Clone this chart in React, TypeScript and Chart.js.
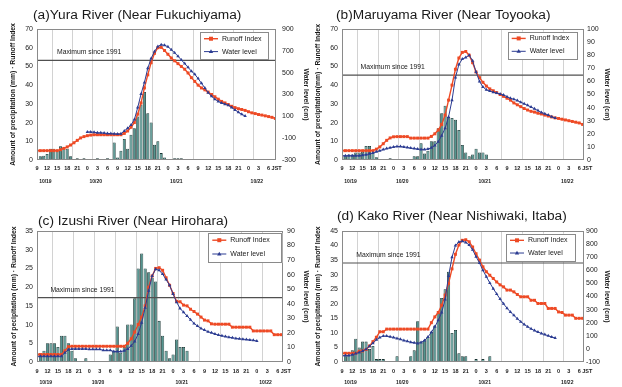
import React, { useEffect, useRef } from 'react';
import { Chart, registerables } from 'chart.js';

Chart.register(...registerables);

const FONT = '"Liberation Sans", Arial, Helvetica, sans-serif';
Chart.defaults.font.family = FONT;

const RED = '#ee4a25';
const BLUE = '#2c3c92';
const BAR_FILL = '#54948f';
const BAR_EDGE = '#173331';
const MAX_LINE = '#505050';
const GRID = '#d2d2d2';
const FRAME = '#8a8a8a';
const TEXT = '#1a1a1a';

// hours counted from 10/19 9:00 JST
const START_HOUR = 9;
const LAST_TICK = 69;
const dateLabels = ['10/19', '10/20', '10/21', '10/22'];
const datePositions = [2.5, 17.5, 41.5, 65.5];
const seriesLabels = ['Runoff Index', 'Water level'];
const maxLabel = 'Maximum since 1991';
const rightAxisTitle = 'Water level (cm)';

// (a) Yura River
const precipA = [0, 2, 2.3, 3.2, 6, 6, 5, 7.3, 6.8, 6, 2, 0, 1, 0, 1, 0, 0, 0, 1, 0, 0, 1, 0, 9.4, 1.4, 5, 11.2, 6, 13.5, 17, 23.3, 29.6, 36.3, 25, 20, 8.2, 10, 3.7, 1.4, 0, 0, 1, 1, 1];
const runoffA = [5, 5, 5, 5, 5, 5, 5, 5.5, 6.2, 7, 8, 9.2, 10.5, 11.8, 12.5, 13, 13.3, 13.5, 13.5, 13.5, 13.5, 13.5, 13.5, 13.5, 13.5, 13.5, 14.2, 15.5, 17.5, 20, 24.5, 30.5, 38.5, 45.5, 52, 57, 60, 60.2, 58.5, 56.5, 54.5, 53, 51.5, 50, 48.5, 46.5, 44, 42, 40, 38.5, 37.5, 36.3, 35, 33.8, 32.5, 31.3, 30.5, 29.6, 28.7, 28, 27.4, 27, 26.5, 25.8, 25.2, 24.8, 24.3, 24, 23.6, 23.2, 22.8, 22.2];
const waterA = [null, null, null, null, null, null, null, null, null, null, null, null, null, null, null, -43, -43, -46, -50, -51, -53, -57, -58, -60, -62, -60, -34, -9, 20, 70, 180, 305, 410, 540, 630, 694, 740, 756, 751, 737, 711, 682, 651, 617, 583, 549, 514, 485, 446, 403, 360, 317, 283, 257, 237, 223, 211, 201, 180, 159, 137, 118, 103];
const maxA = 53.2;

// (b) Maruyama River
const precipB = [2, 2, 3, 3, 4, 4, 4.5, 7.5, 7.5, 4, 1.5, 0, 0, 0, 1, 0, 0, 0, 0, 0, 0, 2, 2, 9, 3.5, 5, 10, 10, 17, 25, 29, 23, 22.5, 21.5, 16, 8, 4, 2, 3, 6, 4, 4, 3];
const runoffB = [5, 5, 5, 5, 5, 5, 5, 5, 5, 5, 5.8, 7, 8.7, 10.5, 11.8, 12.4, 12.5, 12.5, 12.5, 12.5, 11.7, 11.7, 11.7, 11.7, 11.7, 11.7, 12.6, 14, 16, 19, 24, 32, 40, 48.5, 54.5, 57.5, 58, 56, 52, 47, 44, 41.5, 39.5, 38, 37, 36, 35, 34, 33, 32, 30.5, 29.5, 28.5, 27.5, 26.7, 26, 25.6, 25, 24.6, 24, 23.5, 23, 22.5, 22.2, 21.8, 21.4, 21, 20.6, 20.2, 19.8, 19];
const waterB = [3.3, 3.3, 3.3, 3.3, 3.3, 3.3, 3.7, 4.1, 4.7, 5.4, 6.3, 7.1, 8, 8.7, 9.4, 10, 10.3, 10.3, 10, 9.6, 9.1, 8.7, 8.4, 8.1, 8.1, 8.4, 9.3, 11.1, 14, 18.6, 24.3, 32.9, 45.7, 62.9, 72.9, 77.1, 78.3, 80, 75.7, 67.1, 60, 55.7, 53.6, 52.6, 51.7, 51.1, 50.4, 49.7, 48.3, 47.1, 46.4, 45.4, 44.1, 42.9, 41.7, 40.4, 39.1, 37.7, 36.3, 35.3, 34.3, 33.1, 32];
const maxB = 45.3;

// (c) Izushi River
const precipC = [0, 2, 3, 5, 5, 5, 4, 7, 7, 5, 3, 1, 0, 0, 1, 0, 0, 0, 0, 0, 0, 2, 3, 9.5, 2.5, 4, 10, 10, 17, 25, 29, 25, 24, 22.5, 21.5, 11, 7, 3, 1, 2, 6, 4, 4, 3];
const runoffC = [2, 2, 2, 2, 2, 2, 2, 2, 3, 4.1, 4.2, 4.2, 4.2, 4.2, 4.2, 4.2, 4.2, 4.2, 4.2, 4.2, 4.2, 4.2, 4.2, 4.2, 4.2, 4.2, 5, 6.2, 8, 10, 12, 15, 20, 23, 25, 25.2, 24.5, 22.5, 20.5, 18.3, 16.2, 16.1, 15.2, 15, 14.1, 13.5, 12.8, 12, 11.2, 11, 10.2, 10.1, 10.1, 10.1, 10.1, 10.1, 9.3, 9.3, 9.3, 9.3, 9.3, 9.3, 8.3, 8.3, 8.3, 8.3, 8.3, 8.3, 7.3, 7.3, 7.3];
const waterC = [3.9, 3.9, 3.9, 3.9, 3.9, 3.9, 3.9, 3.9, 6.4, 8.5, 9, 9, 9, 9, 9, 8.7, 8.7, 8.7, 8.7, 8, 8, 8, 7.2, 7.2, 7.2, 7.7, 9, 11.1, 14.1, 19.3, 27, 37.3, 48.9, 59.1, 63.8, 63, 60.4, 56.6, 52.7, 46.8, 41.1, 36.8, 34.2, 31.6, 29.1, 26.5, 24.7, 23.1, 21.9, 20.8, 20.1, 19.3, 18.5, 18, 17.5, 17, 16.7, 16.2, 15.9, 15.7, 15.4, 15.2, 14.9, 14.4];
const maxC = 17.2;

// (d) Kako River
const precipD = [0, 2, 2.5, 4, 8, 5, 7, 7, 4.5, 5.5, 1, 1, 1, 0, 0, 0, 2, 0, 0, 0, 2, 4, 14, 7, 7.5, 8.7, 10.4, 12.5, 17, 22, 25, 31, 10, 11, 3, 2, 2, 0, 0, 1, 0, 1, 0, 2];
const runoffD = [3, 3, 3, 3, 3, 3.7, 3.8, 4.3, 5.5, 7, 8.5, 10.4, 10.4, 11.3, 11.3, 11.3, 11.3, 11.3, 11.3, 11.3, 11.3, 11.3, 11.3, 11.3, 11.3, 11.3, 13.5, 15.5, 17, 19.5, 23, 27, 32, 37, 40.2, 41.8, 42, 41.3, 39.5, 37.2, 35, 32.7, 31, 29.8, 28.7, 27.5, 26.5, 25.8, 24.7, 24.7, 24.1, 23.2, 22.4, 22.4, 22.4, 21.2, 21.2, 20.1, 20.1, 20.1, 18.4, 18.4, 18.4, 17.2, 17, 16.1, 16.1, 16.1, 15, 15, 15];
const waterD = [-51, -51, -51, -44, -36, -27, -16, -2, 20, 44, 69, 87, 98, 98, 93, 87, 80, 73, 64, 58, 51, 47, 42, 49, 64, 91, 127, 169, 218, 278, 378, 556, 700, 789, 816, 822, 813, 793, 756, 704, 656, 600, 551, 504, 460, 420, 380, 344, 311, 282, 256, 231, 207, 187, 169, 153, 140, 129, 118, 109, 100, 91, 84];
const maxD = 34;

type Panel = {
  id: string;
  left: number; top: number; W: number; H: number;
  plotLeft: number; plotRight: number; plotTop: number; plotBottom: number;
  title: string; titleX: number; titleY: number;
  leftTitle: string; leftTitlePad: number; rightTitlePad: number; rightTickPad: number;
  precip: number[]; runoff: (number | null)[]; water: (number | null)[]; maxLevel: number;
  yMax: number; yStep: number; y2Min: number; y2Max: number; y2Step: number; xMax: number;
  xTickPad: number; dateY: number; maxLabelDx: number;
  legend: { x: number; y: number; w: number; h: number };
};

const panels: Panel[] = [
  {
    id: 'a', left: 0, top: 0, W: 311, H: 193,
    plotLeft: 37, plotRight: 276, plotTop: 29, plotBottom: 160,
    title: '(a)Yura River (Near Fukuchiyama)', titleX: 33, titleY: 15,
    leftTitle: 'Amount of precipitation (mm) · Runoff Index', leftTitlePad: 9, rightTitlePad: 1.2, rightTickPad: 6,
    precip: precipA, runoff: runoffA, water: waterA, maxLevel: maxA,
    yMax: 70, yStep: 10, y2Min: -300, y2Max: 900, y2Step: 200, xMax: 71.2,
    xTickPad: 5, dateY: 181.5, maxLabelDx: 20,
    legend: { x: 200, y: 32, w: 69, h: 28 },
  },
  {
    id: 'b', left: 311, top: 0, W: 311, H: 193,
    plotLeft: 31, plotRight: 273, plotTop: 29, plotBottom: 160,
    title: '(b)Maruyama River (Near Toyooka)', titleX: 25, titleY: 15,
    leftTitle: 'Amount of precipitation(mm) · Runoff Index', leftTitlePad: 3, rightTitlePad: 11, rightTickPad: 3,
    precip: precipB, runoff: runoffB, water: waterB, maxLevel: maxB,
    yMax: 70, yStep: 10, y2Min: 0, y2Max: 100, y2Step: 10, xMax: 70.4,
    xTickPad: 5, dateY: 181.5, maxLabelDx: 18.6,
    legend: { x: 196.7, y: 31.7, w: 70, h: 28 },
  },
  {
    id: 'c', left: 0, top: 193, W: 311, H: 194,
    plotLeft: 37, plotRight: 283, plotTop: 38, plotBottom: 169,
    title: '(c) Izushi River (Near Hirohara)', titleX: 38, titleY: 28,
    leftTitle: 'Amount of pecipitation (mm) · Runoff Index', leftTitlePad: 10, rightTitlePad: 1.2, rightTickPad: 4,
    precip: precipC, runoff: runoffC, water: waterC, maxLevel: maxC,
    yMax: 35, yStep: 5, y2Min: 0, y2Max: 90, y2Step: 10, xMax: 70.5,
    xTickPad: 6.5, dateY: 190, maxLabelDx: 13.4,
    legend: { x: 208.3, y: 40, w: 74, h: 30 },
  },
  {
    id: 'd', left: 311, top: 193, W: 311, H: 194,
    plotLeft: 31, plotRight: 273, plotTop: 38, plotBottom: 169,
    title: '(d) Kako River (Near Nishiwaki, Itaba)', titleX: 26, titleY: 23,
    leftTitle: 'Amount of pecipitation (mm) · Runoff Index', leftTitlePad: 3, rightTitlePad: 11, rightTickPad: 2,
    precip: precipD, runoff: runoffD, water: waterD, maxLevel: maxD,
    yMax: 45, yStep: 5, y2Min: -100, y2Max: 900, y2Step: 100, xMax: 70.4,
    xTickPad: 6.5, dateY: 190, maxLabelDx: 14.3,
    legend: { x: 195, y: 40.7, w: 70, h: 27.6 },
  },
];

function drawSquare(ctx: CanvasRenderingContext2D, x: number, y: number, r: number, color: string) {
  ctx.fillStyle = color;
  ctx.fillRect(x - r, y - r, r * 2, r * 2);
}

function drawTriangle(ctx: CanvasRenderingContext2D, x: number, y: number, r: number, color: string) {
  ctx.fillStyle = color;
  ctx.beginPath();
  ctx.moveTo(x, y - r);
  ctx.lineTo(x + r * 0.95, y + r * 0.6);
  ctx.lineTo(x - r * 0.95, y + r * 0.6);
  ctx.closePath();
  ctx.fill();
}

function makeDecor(p: Panel) {
  return {
    id: 'decor_' + p.id,
    afterDraw(chart: any) {
      const { ctx, chartArea: ca } = chart;
      const xs = chart.scales.x;
      const ys = chart.scales.y;
      ctx.save();
      // plot frame
      ctx.strokeStyle = FRAME;
      ctx.lineWidth = 1;
      ctx.strokeRect(Math.round(ca.left) + 0.5, Math.round(ca.top) + 0.5, Math.round(ca.right - ca.left) - 1, Math.round(ca.bottom - ca.top) - 1);

      // title
      ctx.fillStyle = TEXT;
      ctx.font = `13.7px ${FONT}`;
      ctx.textAlign = 'left';
      ctx.textBaseline = 'middle';
      ctx.fillText(p.title, p.titleX, p.titleY);

      // maximum label
      const yLine = ys.getPixelForValue(p.maxLevel);
      ctx.font = `6.8px ${FONT}`;
      ctx.fillText(maxLabel, ca.left + p.maxLabelDx, yLine - 8);

      // date labels
      ctx.font = `bold 5px ${FONT}`;
      ctx.textAlign = 'center';
      dateLabels.forEach((d, i) => {
        ctx.fillText(d, xs.getPixelForValue(datePositions[i]), p.dateY);
      });

      // JST suffix
      try {
        const items = xs.getLabelItems();
        const idx = xs.ticks.findIndex((t: any) => t.value === LAST_TICK);
        if (idx >= 0 && items[idx]) {
          const it = items[idx];
          const [tx, ty] = it.options.translation;
          ctx.font = `bold 5.5px ${FONT}`;
          ctx.textAlign = 'left';
          ctx.textBaseline = it.options.textBaseline;
          ctx.fillText('JST', tx + 3, ty + (it.textOffset || 0));
        }
      } catch (e) {
        /* ignore */
      }

      // legend
      const L = p.legend;
      ctx.fillStyle = '#ffffff';
      ctx.fillRect(L.x, L.y, L.w, L.h);
      ctx.strokeStyle = '#8a8a8a';
      ctx.lineWidth = 1;
      ctx.strokeRect(Math.round(L.x) + 0.5, Math.round(L.y) + 0.5, Math.round(L.w) - 1, Math.round(L.h) - 1);
      const rows = [L.y + L.h * 0.24, L.y + L.h * 0.7];
      const colors = [RED, BLUE];
      rows.forEach((ry, i) => {
        ctx.strokeStyle = colors[i];
        ctx.lineWidth = i === 0 ? 1.4 : 1;
        ctx.beginPath();
        ctx.moveTo(L.x + 4, ry);
        ctx.lineTo(L.x + 18, ry);
        ctx.stroke();
        if (i === 0) drawSquare(ctx, L.x + 11, ry, 2, RED);
        else drawTriangle(ctx, L.x + 11, ry, 2.3, BLUE);
        ctx.fillStyle = TEXT;
        ctx.font = `7px ${FONT}`;
        ctx.textAlign = 'left';
        ctx.textBaseline = 'middle';
        ctx.fillText(seriesLabels[i], L.x + 22, ry);
      });
      ctx.restore();
    },
  };
}

function buildConfig(p: Panel): any {
  const bars = p.precip.map((v, i) => ({ x: i, y: v > 0 ? v : null }));
  const runoff = p.runoff.map((v, i) => ({ x: i, y: v }));
  const water = p.water.map((v, i) => ({ x: i, y: v }));
  const maxLine = [{ x: 0, y: p.maxLevel }, { x: p.xMax, y: p.maxLevel }];
  return {
    type: 'line',
    data: {
      datasets: [
        {
          type: 'line', label: seriesLabels[1], data: water, yAxisID: 'y2',
          borderColor: BLUE, backgroundColor: BLUE, borderWidth: 1,
          pointStyle: 'triangle', pointRadius: 2, pointBorderWidth: 0, pointBackgroundColor: BLUE,
          tension: 0, order: 1, spanGaps: false,
        },
        {
          type: 'line', label: seriesLabels[0], data: runoff, yAxisID: 'y',
          borderColor: RED, backgroundColor: RED, borderWidth: 1.4,
          pointStyle: 'rect', pointRadius: 2.1, pointBorderWidth: 0, pointBackgroundColor: RED,
          tension: 0, order: 2,
        },
        {
          type: 'line', label: maxLabel, data: maxLine, yAxisID: 'y',
          borderColor: MAX_LINE, borderWidth: 1.2, pointRadius: 0, order: 3,
        },
        {
          type: 'bar', label: 'Precipitation', data: bars, yAxisID: 'y',
          backgroundColor: BAR_FILL, borderColor: BAR_EDGE, borderWidth: 0.8,
          barPercentage: 0.9, categoryPercentage: 1, order: 4,
        },
      ],
    },
    options: {
      responsive: false,
      animation: false,
      events: [],
      layout: { padding: { top: p.plotTop, left: 0, right: 0, bottom: 0 } },
      plugins: { legend: { display: false }, tooltip: { enabled: false }, title: { display: false } },
      scales: {
        x: {
          type: 'linear', position: 'bottom', min: 0, max: p.xMax, offset: false,
          grid: {
            color: (c: any) => (c.tick && c.tick.value > 0 && c.tick.value % 6 === 0 ? GRID : 'rgba(0,0,0,0)'),
            drawTicks: false, lineWidth: 1,
          },
          border: { display: false },
          ticks: {
            stepSize: 3, autoSkip: false, maxRotation: 0, minRotation: 0, includeBounds: false,
            padding: p.xTickPad, color: TEXT, font: { size: 5.5, weight: 'bold' },
            callback: (v: any) => String((START_HOUR + Number(v)) % 24),
          },
          afterFit: (s: any) => { s.height = p.H - p.plotBottom; },
        },
        y: {
          type: 'linear', position: 'left', min: 0, max: p.yMax,
          grid: { display: false, drawTicks: false },
          border: { display: false },
          ticks: { stepSize: p.yStep, padding: 4, color: TEXT, font: { size: 7 } },
          title: {
            display: true, text: p.leftTitle, color: TEXT,
            font: { size: 6.8, weight: 'bold' }, padding: { top: p.leftTitlePad, bottom: 0 },
          },
          afterFit: (s: any) => { s.width = p.plotLeft; },
        },
        y2: {
          type: 'linear', position: 'right', min: p.y2Min, max: p.y2Max,
          grid: { display: false, drawTicks: false },
          border: { display: false },
          ticks: { stepSize: p.y2Step, padding: p.rightTickPad, color: TEXT, font: { size: 7 } },
          title: {
            display: true, text: rightAxisTitle, color: TEXT,
            font: { size: 6.8, weight: 'bold' }, padding: { top: p.rightTitlePad, bottom: 0 },
          },
          afterFit: (s: any) => { s.width = p.W - p.plotRight; },
        },
      },
    },
    plugins: [makeDecor(p)],
  };
}

function PanelChart({ p }: { p: Panel }) {
  const ref = useRef<HTMLCanvasElement>(null);
  useEffect(() => {
    const canvas = ref.current;
    if (!canvas) return;
    const chart = new Chart(canvas, buildConfig(p));
    return () => chart.destroy();
  }, [p]);
  return (
    <canvas
      ref={ref}
      width={p.W}
      height={p.H}
      style={{ position: 'absolute', left: p.left, top: p.top, width: p.W, height: p.H }}
    />
  );
}

export default function App() {
  return (
    <div style={{ position: 'absolute', left: 0, top: 0, width: 622, height: 387, background: '#ffffff', overflow: 'hidden' }}>
      {panels.map((p) => (
        <PanelChart key={p.id} p={p} />
      ))}
    </div>
  );
}
